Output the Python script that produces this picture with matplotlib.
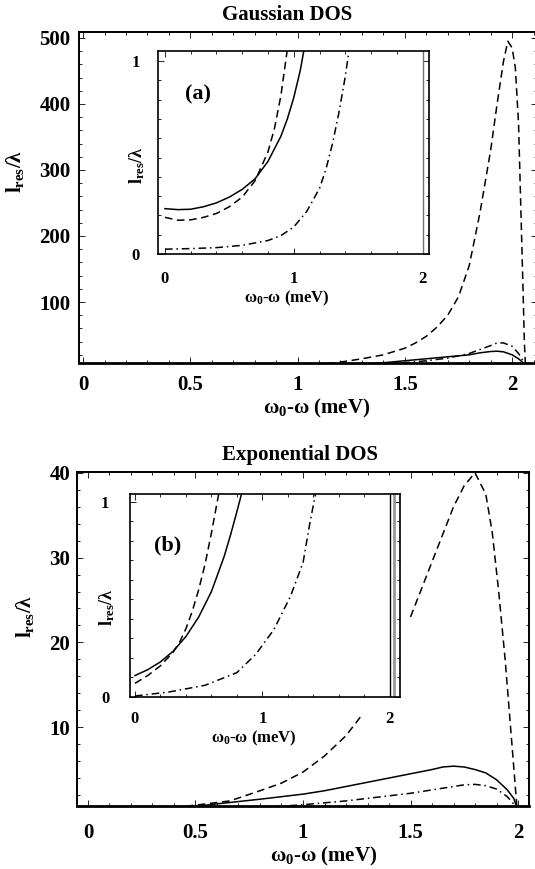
import matplotlib
matplotlib.use('Agg')
import matplotlib.pyplot as plt
import numpy as np

# ---- data (x = omega0 - omega in meV, y = l_res / lambda)

# (a) Gaussian DOS, main panel
gx_main = [0, 0.5, 0.9, 1.0, 1.1, 1.2, 1.3, 1.4, 1.5, 1.55, 1.6, 1.65, 1.7, 1.75, 1.8,
           1.85, 1.9, 1.93, 1.96, 1.98, 2.0, 2.015, 2.03, 2.04, 2.05, 2.057, 2.062]
g_dashed = [0.2, 0.3, 1, 2, 5, 9, 14, 20, 30, 38, 48, 62, 80, 108, 155,
            235, 330, 400, 465, 495, 485, 455, 370, 250, 130, 40, 5]
gx_low = [0, 0.5, 1.0, 1.2, 1.4, 1.5, 1.6, 1.7, 1.8, 1.85, 1.9, 1.93, 1.96, 2.0, 2.03, 2.062]
g_solid = [0.23, 0.3, 1, 3, 8, 11, 14, 17, 20, 23, 25, 25.5, 24.5, 20, 14, 5]
g_dashdot = [0.02, 0.04, 0.15, 1, 5, 8, 11, 15, 22, 28, 34, 38, 38, 33, 22, 5]

# (a) inset, zoom on the low part
ga_x_solid = [0, 0.1, 0.2, 0.3, 0.4, 0.5, 0.6, 0.7, 0.8, 0.9, 0.95, 1.0, 1.05, 1.08]
ga_solid = [0.235, 0.23, 0.232, 0.245, 0.265, 0.295, 0.335, 0.39, 0.48, 0.61, 0.7, 0.81, 0.95, 1.06]
ga_x_dashed = [0, 0.1, 0.2, 0.3, 0.4, 0.5, 0.6, 0.7, 0.8, 0.85, 0.9, 0.95]
ga_dashed = [0.19, 0.175, 0.177, 0.19, 0.21, 0.245, 0.295, 0.38, 0.53, 0.65, 0.82, 1.06]
ga_x_dashdot = [0, 0.2, 0.4, 0.6, 0.8, 0.9, 1.0, 1.1, 1.2, 1.25, 1.3, 1.35, 1.4, 1.43]
ga_dashdot = [0.025, 0.028, 0.033, 0.045, 0.07, 0.095, 0.14, 0.22, 0.34, 0.44, 0.57, 0.73, 0.92, 1.06]
ga_edge = 2.0

# (b) Exponential DOS, main panel (dashed curve is hidden behind the inset between 1.27 and 1.5)
ex_dashed = [0, 0.2, 0.4, 0.5, 0.66, 0.8, 0.9, 1.0, 1.1, 1.2, 1.27, 1.4,
             1.5, 1.6, 1.7, 1.75, 1.8, 1.85, 1.88, 1.91, 1.94, 1.97, 1.995]
e_dashed = [0.07, 0.25, 0.55, 0.8, 1.3, 2.5, 3.4, 4.7, 6.6, 9.0, 11.3, np.nan,
            23.0, 29.5, 36.0, 38.5, 40.0, 37.5, 33.0, 26.0, 18.0, 8.5, 0.5]
ex_solid = [0, 0.2, 0.4, 0.5, 0.6, 0.8, 1.0, 1.1, 1.2, 1.3, 1.4, 1.5, 1.6, 1.65, 1.7,
            1.75, 1.8, 1.85, 1.9, 1.95, 1.98, 1.995]
e_solid = [0.11, 0.2, 0.45, 0.65, 0.95, 1.5, 2.1, 2.5, 3.0, 3.5, 4.0, 4.5, 5.0, 5.3, 5.4,
           5.3, 5.0, 4.6, 3.8, 2.6, 1.6, 0.5]
ex_dashdot = [0, 0.4, 0.6, 0.8, 1.0, 1.2, 1.4, 1.5, 1.6, 1.7, 1.75, 1.8, 1.85, 1.9, 1.95, 1.995]
e_dashdot = [0.0, 0.1, 0.25, 0.5, 0.85, 1.3, 1.9, 2.2, 2.6, 3.0, 3.2, 3.25, 3.1, 2.7, 1.8, 0.5]

# (b) inset
eb_x_solid = [0, 0.1, 0.2, 0.3, 0.4, 0.5, 0.6, 0.7, 0.75, 0.8, 0.84]
eb_solid = [0.11, 0.14, 0.18, 0.235, 0.31, 0.41, 0.54, 0.72, 0.83, 0.95, 1.05]
eb_x_dashed = [0, 0.1, 0.2, 0.3, 0.35, 0.4, 0.45, 0.5, 0.55, 0.6, 0.66]
eb_dashed = [0.07, 0.11, 0.16, 0.23, 0.28, 0.35, 0.44, 0.55, 0.68, 0.84, 1.05]
eb_x_dashdot = [0, 0.27, 0.55, 0.8, 0.95, 1.09, 1.22, 1.32, 1.37, 1.42]
eb_dashdot = [0.005, 0.026, 0.06, 0.125, 0.22, 0.345, 0.515, 0.69, 0.88, 1.05]
eb_edge = 2.0

W, H = 535, 869
DASHED = (0, (5, 3))
DASHDOT = (0, (5, 2.5, 1, 2.5))
LW = 1.1

plt.rcParams['font.family'] = ['Liberation Serif', 'DejaVu Serif']
plt.rcParams['font.weight'] = 'bold'
plt.rcParams['mathtext.fontset'] = 'custom'
plt.rcParams['mathtext.rm'] = 'Liberation Serif:bold'
plt.rcParams['mathtext.it'] = 'Liberation Serif:bold'
plt.rcParams['mathtext.bf'] = 'Liberation Serif:bold'

YLAB = r'$\mathrm{l}_{\mathrm{res}}/\lambda$'
XLAB = r'$\omega_0$-$\omega$ (meV)'


def box(px_left, px_top, px_right, px_bottom):
    # pixel box of the picture -> figure fraction rect
    return [px_left / W, 1 - px_bottom / H, (px_right - px_left) / W, (px_bottom - px_top) / H]


def style(ax, size, xpad, ypad, lw=1.4):
    for s in ax.spines.values():
        s.set_linewidth(lw)
    ax.tick_params(which='both', direction='in', top=True, right=True,
                   labelsize=size, width=0.6)
    ax.tick_params(which='major', length=4)
    ax.tick_params(which='minor', length=2)
    ax.tick_params(axis='x', pad=xpad)
    ax.tick_params(axis='y', pad=ypad)


def curves(ax, x1, y1, x2, y2, x3, y3):
    ax.plot(x1, y1, color='black', lw=LW, linestyle=DASHED)
    ax.plot(x2, y2, color='black', lw=LW)
    ax.plot(x3, y3, color='black', lw=LW, linestyle=DASHDOT)


fig = plt.figure(figsize=(W / 100, H / 100), dpi=100)

# ---------------- (a) Gaussian DOS
ax1 = fig.add_axes(box(79, 32, 537, 363))
curves(ax1, gx_main, g_dashed, gx_low, g_solid, gx_low, g_dashdot)
ax1.set_xlim(-0.019, 2.116)
ax1.set_ylim(7.6, 509)
ax1.set_xticks([0, 0.5, 1, 1.5, 2], ['0', '0.5', '1', '1.5', '2'])
ax1.set_yticks([100, 200, 300, 400, 500], ['100', '200', '300', '400', '500'])
ax1.set_xticks(np.arange(0, 2.11, 0.1), minor=True)
ax1.set_yticks(np.arange(20, 509, 20), minor=True)
style(ax1, 15, 9, 6)
ax1.spines['bottom'].set_linewidth(2.0)

ins1 = fig.add_axes(box(158, 51, 429, 254))
curves(ins1, ga_x_dashed, ga_dashed, ga_x_solid, ga_solid, ga_x_dashdot, ga_dashdot)
ins1.axvline(ga_edge, color='0.45', lw=1.0)
ins1.set_xlim(-0.054, 2.05)
ins1.set_ylim(0, 1.052)
ins1.set_xticks([0, 1, 2], ['0', '1', '2'])
ins1.set_yticks([0, 1], ['0', '1'])
ins1.set_xticks(np.arange(0, 2.05, 0.2), minor=True)
ins1.set_yticks(np.arange(0, 1.05, 0.1), minor=True)
style(ins1, 12, 12, 13, lw=1.2)

fig.text(287 / W, 1 - 15 / H, 'Gaussian DOS', fontsize=15, ha='center', va='center')
fig.text(317 / W, 1 - 408 / H, XLAB, fontsize=15, ha='center', va='center')
fig.text(15 / W, 1 - 171 / H, YLAB, fontsize=15, ha='center', va='center', rotation=90)
fig.text(287 / W, 1 - 298 / H, XLAB, fontsize=12, ha='center', va='center')
fig.text(137 / W, 1 - 165 / H, YLAB, fontsize=13, ha='center', va='center', rotation=90)
fig.text(198 / W, 1 - 94 / H, '(a)', fontsize=16, ha='center', va='center')

# ---------------- (b) Exponential DOS
ax2 = fig.add_axes(box(77, 472, 529, 806))
curves(ax2, ex_dashed, e_dashed, ex_solid, e_solid, ex_dashdot, e_dashdot)
ax2.set_xlim(-0.051, 2.051)
ax2.set_ylim(0.7, 40.1)
ax2.set_xticks([0, 0.5, 1, 1.5, 2], ['0', '0.5', '1', '1.5', '2'])
ax2.set_yticks([10, 20, 30, 40], ['10', '20', '30', '40'])
ax2.set_xticks(np.arange(0, 2.05, 0.1), minor=True)
ax2.set_yticks(np.arange(2, 40.1, 2), minor=True)
style(ax2, 15, 12, 5)
ax2.spines['bottom'].set_linewidth(2.0)

ins2 = fig.add_axes(box(130, 494, 400, 697))
curves(ins2, eb_x_dashed, eb_dashed, eb_x_solid, eb_solid, eb_x_dashdot, eb_dashdot)
ins2.axvline(eb_edge + 0.03, color='0.6', lw=2.0)
ins2.axvline(eb_edge, color='black', lw=1.0)
ins2.set_xlim(-0.039, 2.081)
ins2.set_ylim(0, 1.041)
ins2.set_xticks([0, 1, 2], ['0', '1', '2'])
ins2.set_yticks([0, 1], ['0', '1'])
ins2.set_xticks(np.arange(0, 2.05, 0.2), minor=True)
ins2.set_yticks(np.arange(0, 1.05, 0.1), minor=True)
style(ins2, 12, 10, 15, lw=1.2)

fig.text(300 / W, 1 - 455 / H, 'Exponential DOS', fontsize=15, ha='center', va='center')
fig.text(324 / W, 1 - 856 / H, XLAB, fontsize=15, ha='center', va='center')
fig.text(25 / W, 1 - 616 / H, YLAB, fontsize=15, ha='center', va='center', rotation=90)
fig.text(254 / W, 1 - 738 / H, XLAB, fontsize=12, ha='center', va='center')
fig.text(107 / W, 1 - 607 / H, YLAB, fontsize=13, ha='center', va='center', rotation=90)
fig.text(168 / W, 1 - 545 / H, '(b)', fontsize=16, ha='center', va='center')

fig.savefig('out.png', dpi=100)
